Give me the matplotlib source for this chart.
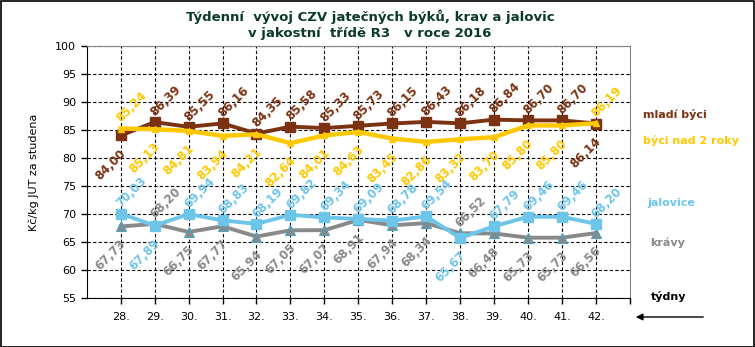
import matplotlib
matplotlib.use("Agg")
import matplotlib.pyplot as plt
from matplotlib.patches import Rectangle, FancyArrowPatch

weeks = ["28.", "29.", "30.", "31.", "32.", "33.", "34.", "35.", "36.", "37.", "38.", "39.", "40.", "41.", "42."]

mladi_byci = [84.00, 86.39, 85.55, 86.16, 84.35, 85.58, 85.33, 85.73, 86.15, 86.43, 86.18, 86.84, 86.70, 86.70, 86.14]
byci_nad_2 = [85.24, 85.13, 84.81, 83.94, 84.21, 82.64, 84.01, 84.63, 83.45, 82.86, 83.32, 83.70, 85.80, 85.80, 86.19]
jalovice = [70.03, 67.89, 69.94, 68.83, 68.19, 69.82, 69.34, 69.09, 68.78, 69.54, 65.67, 67.79, 69.46, 69.46, 68.20]
kravy = [67.73, 68.20, 66.75, 67.77, 65.94, 67.05, 67.07, 68.91, 67.94, 68.34, 66.52, 66.48, 65.73, 65.73, 66.56]

# label placement per point: True = above the marker, False = below
mladi_up = [False] + [True] * 13 + [False]
byci_up = [True] + [False] * 13 + [True]
jal_up = [True, False] + [True] * 8 + [False] + [True] * 4
krav_up = [False, True] + [False] * 8 + [True] + [False] * 4

C_BROWN = "#7A3212"
C_GOLD = "#FFC800"
C_BLUE = "#6EC5EA"
C_GRAY = "#898989"
C_TITLE = "#0B3A26"

W, H = 755, 347
fig = plt.figure(figsize=(W / 100, H / 100), dpi=100)
x0, x1, y_top, y_bot = 86.7, 630, 46, 297.7
ax = fig.add_axes([x0 / W, (H - y_bot) / H, (x1 - x0) / W, (y_bot - y_top) / H])

x = list(range(len(weeks)))

ax.plot(x, kravy, color=C_GRAY, lw=2.8, marker="^", ms=7, mfc=C_GRAY, mec="#4BA3C3", mew=0.8, zorder=3)
ax.plot(x, jalovice, color=C_BLUE, lw=2.8, marker="s", ms=7, mfc=C_BLUE, mec=C_BLUE, zorder=4)
ax.plot(x, mladi_byci, color=C_BROWN, lw=2.8, marker="s", ms=7, mfc=C_BROWN, mec=C_BROWN, zorder=5)
ax.plot(x, byci_nad_2, color=C_GOLD, lw=3.2, marker="^", ms=5, mfc=C_GOLD, mec=C_GOLD, zorder=6)


def label_series(vals, ups, color):
    for i, (v, up) in enumerate(zip(vals, ups)):
        txt = f"{v:.2f}".replace(".", ",")
        if up:
            ax.annotate(txt, (i, v), xytext=(1.5, 2.5), textcoords="offset points",
                        rotation=45, rotation_mode="anchor", ha="left", va="bottom",
                        fontsize=8.5, fontweight="bold", color=color, zorder=7)
        else:
            ax.annotate(txt, (i, v), xytext=(-1, -8), textcoords="offset points",
                        rotation=45, rotation_mode="anchor", ha="right", va="top",
                        fontsize=8.5, fontweight="bold", color=color, zorder=7)


label_series(mladi_byci, mladi_up, C_BROWN)
label_series(byci_nad_2, byci_up, C_GOLD)
label_series(jalovice, jal_up, C_BLUE)
label_series(kravy, krav_up, C_GRAY)

ax.set_xlim(-1, 15)
ax.set_ylim(55, 100)
ax.set_yticks(range(55, 101, 5))
ax.set_xticks(x)
ax.set_xticklabels(weeks)
ax.set_xticks([15], minor=True)
ax.tick_params(axis="both", which="both", direction="out", length=4, width=1,
               labelsize=8, colors="black")
ax.tick_params(axis="x", pad=6)
ax.grid(True, color="black", linestyle=(0, (3, 2)), linewidth=0.8)
ax.set_axisbelow(True)

for side in ("left", "bottom"):
    ax.spines[side].set_color("black")
for side in ("top", "right"):
    ax.spines[side].set_color("#808080")

ax.set_ylabel("Kč/kg JUT za studena", fontsize=8, labelpad=12)

fig.text(370 / W, 1 - 17 / H, "Týdenní  vývoj CZV jatečných býků, krav a jalovic",
         ha="center", va="center", fontsize=9.5, fontweight="bold", color=C_TITLE)
fig.text(370 / W, 1 - 33 / H, "v jakostní  třídě R3   v roce 2016",
         ha="center", va="center", fontsize=9.5, fontweight="bold", color=C_TITLE)

fig.text(643 / W, 1 - 115 / H, "mladí býci", fontsize=8, fontweight="bold", color=C_BROWN, va="center")
fig.text(643 / W, 1 - 140 / H, "býci nad 2 roky", fontsize=8, fontweight="bold", color=C_GOLD, va="center")
fig.text(647 / W, 1 - 203 / H, "jalovice", fontsize=8, fontweight="bold", color=C_BLUE, va="center")
fig.text(650 / W, 1 - 243 / H, "krávy", fontsize=8, fontweight="bold", color=C_GRAY, va="center")
fig.text(651 / W, 1 - 297 / H, "týdny", fontsize=8, fontweight="bold", color="black", va="center")

fig.patches.append(Rectangle((0.5 / W, 0.5 / H), 1 - 1.5 / W, 1 - 1.5 / H,
                             transform=fig.transFigure, fill=False, edgecolor="black", lw=1.2))
fig.add_artist(FancyArrowPatch((706 / W, 1 - 317 / H), (633 / W, 1 - 317 / H),
                               transform=fig.transFigure, arrowstyle="-|>",
                               mutation_scale=10, color="black", lw=1))

fig.savefig("out.png", dpi=100)
